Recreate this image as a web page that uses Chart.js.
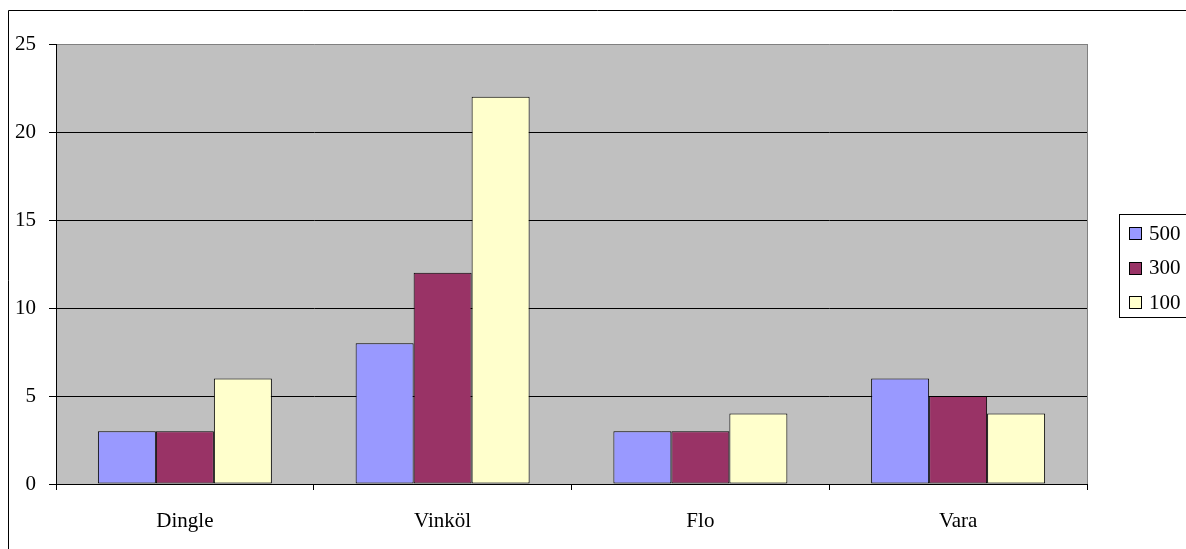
<!DOCTYPE html>
<html>
<head>
<meta charset="utf-8">
<script src="https://cdn.jsdelivr.net/npm/chart.js@4"></script>
<style>
  html, body { margin: 0; padding: 0; background: #ffffff; }
  #wrap { width: 1186px; height: 549px; position: relative; }
</style>
</head>
<body>
<div id="wrap"><canvas id="c" width="1186" height="549"></canvas></div>
<script>
// Categories and series
const categories = ['Dingle', 'Vinköl', 'Flo', 'Vara'];
const seriesLabels = ['500', '300', '100'];
const values500 = [3, 8, 3, 6];
const values300 = [3, 12, 3, 5];
const values100 = [6, 22, 4, 4];
const yTicks = [0, 5, 10, 15, 20, 25];

const colors = ['#9999FF', '#993366', '#FFFFCC'];
const FONT = '"Liberation Serif", "Times New Roman", serif';
const FONT_SIZE = 21;

// Gray plot background, outer frame and a boxed legend on the right
const frame = {
  id: 'frame',
  beforeDraw(chart) {
    const { ctx, chartArea: a } = chart;
    ctx.save();
    ctx.fillStyle = '#C0C0C0';
    ctx.fillRect(a.left, a.top, a.right - a.left, a.bottom - a.top);
    ctx.restore();
  },
  afterDraw(chart) {
    const { ctx, chartArea: a } = chart;
    ctx.save();
    // plot area right edge
    ctx.strokeStyle = '#808080';
    ctx.lineWidth = 1;
    ctx.beginPath();
    ctx.moveTo(Math.round(a.right) + 0.5, a.top);
    ctx.lineTo(Math.round(a.right) + 0.5, a.bottom);
    ctx.stroke();
    // outer chart frame
    ctx.strokeStyle = '#000000';
    ctx.beginPath();
    ctx.moveTo(8.5, 560);
    ctx.lineTo(8.5, 10.5);
    ctx.lineTo(1200, 10.5);
    ctx.stroke();
    // legend box
    ctx.strokeRect(1119.5, 214.5, 80, 103);
    ctx.font = FONT_SIZE + 'px ' + FONT;
    ctx.textBaseline = 'middle';
    ctx.textAlign = 'left';
    chart.data.datasets.forEach((ds, i) => {
      const cy = 234 + i * 34.5;
      const top = Math.round(cy - 7);
      ctx.fillStyle = ds.backgroundColor;
      ctx.fillRect(1129, top, 13, 13);
      ctx.strokeStyle = '#000';
      ctx.strokeRect(1129.5, top + 0.5, 12, 12);
      ctx.fillStyle = '#000';
      ctx.fillText(ds.label, 1149, cy);
    });
    ctx.restore();
  }
};

new Chart(document.getElementById('c'), {
  type: 'bar',
  data: {
    labels: categories,
    datasets: [
      { label: seriesLabels[0], data: values500, backgroundColor: colors[0] },
      { label: seriesLabels[1], data: values300, backgroundColor: colors[1] },
      { label: seriesLabels[2], data: values100, backgroundColor: colors[2] }
    ].map(d => Object.assign(d, {
      borderColor: '#000000', borderWidth: 1, borderSkipped: false,
      categoryPercentage: 0.675, barPercentage: 1.0
    }))
  },
  options: {
    responsive: false,
    animation: false,
    events: [],
    layout: { padding: { top: 44, right: 99, left: 0, bottom: 0 } },
    plugins: { legend: { display: false }, tooltip: { enabled: false } },
    scales: {
      x: {
        afterFit(s) { s.height = 65; },
        grid: {
          offset: true, drawOnChartArea: false, drawTicks: true,
          tickLength: 6, color: '#000000'
        },
        border: { color: '#000000', width: 1 },
        ticks: { color: '#000', font: { family: FONT, size: FONT_SIZE }, padding: 19, maxRotation: 0 }
      },
      y: {
        min: 0, max: 25,
        afterFit(s) { s.width = 56; },
        afterBuildTicks(s) { s.ticks = yTicks.map(v => ({ value: v })); },
        grid: {
          color: ctx => (ctx.tick && ctx.tick.value === 25) ? '#808080' : '#000000',
          tickColor: '#000000', tickLength: 7, lineWidth: 1
        },
        border: { color: '#000000', width: 1 },
        ticks: { color: '#000', font: { family: FONT, size: FONT_SIZE }, padding: 13 }
      }
    }
  },
  plugins: [frame]
});
</script>
</body>
</html>
